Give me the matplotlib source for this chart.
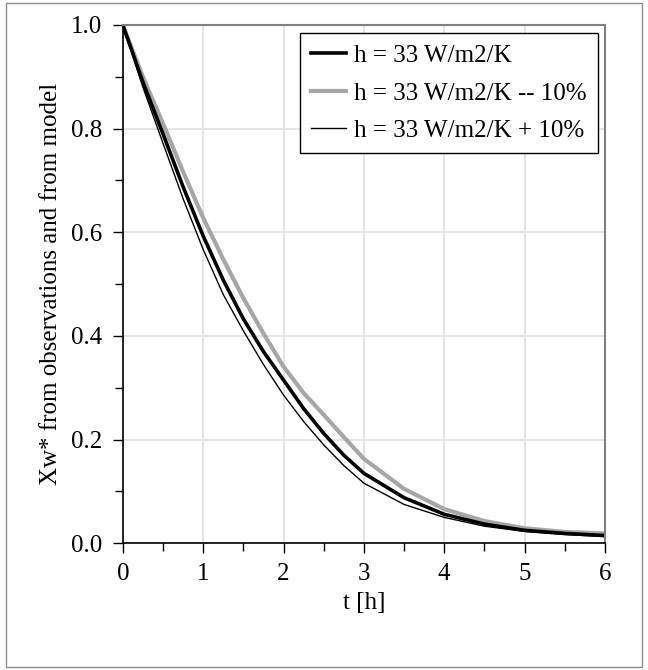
import matplotlib
matplotlib.use("Agg")
import matplotlib.pyplot as plt
from matplotlib.patches import Rectangle
from matplotlib.ticker import MultipleLocator, FormatStrFormatter

plt.rcParams['font.family'] = ['Liberation Serif', 'DejaVu Serif']

# time [h]
t = [0, 0.25, 0.5, 0.75, 1.0, 1.25, 1.5, 1.75, 2.0, 2.25, 2.5, 2.75,
     3.0, 3.5, 4.0, 4.5, 5.0, 5.5, 6.0]

# Xw* for h = 33 W/m2/K
x_base = [1.0, 0.89, 0.79, 0.688, 0.593, 0.508, 0.433, 0.37, 0.315, 0.26, 0.212, 0.17,
          0.135, 0.088, 0.056, 0.037, 0.025, 0.019, 0.015]
# h - 10%
x_minus = [1.0, 0.90, 0.81, 0.717, 0.628, 0.548, 0.473, 0.405, 0.341, 0.29, 0.248, 0.205,
           0.163, 0.105, 0.066, 0.043, 0.029, 0.022, 0.019]
# h + 10%
x_plus = [1.0, 0.88, 0.772, 0.665, 0.567, 0.48, 0.41, 0.345, 0.286, 0.235, 0.19, 0.15,
          0.116, 0.075, 0.050, 0.033, 0.023, 0.017, 0.013]

labels = ['h = 33 W/m2/K', 'h = 33 W/m2/K -- 10%', 'h = 33 W/m2/K + 10%']
fs = 18

fig = plt.figure(figsize=(6.48, 6.70), dpi=100)
fig.patches.append(Rectangle((0.009, 0.005), 0.982, 0.99, transform=fig.transFigure,
                             fill=False, edgecolor='#8c8c8c', linewidth=1.0))

ax = fig.add_axes([0.1895, 0.1891, 0.7441, 0.7736])

l_minus, = ax.plot(t, x_minus, color='#a6a6a6', linewidth=3.0, label=labels[1])
l_base, = ax.plot(t, x_base, color='black', linewidth=2.6, label=labels[0])
l_plus, = ax.plot(t, x_plus, color='black', linewidth=1.0, label=labels[2])

ax.set_xlim(0, 6)
ax.set_ylim(0, 1.0)
ax.xaxis.set_major_locator(MultipleLocator(1))
ax.xaxis.set_minor_locator(MultipleLocator(0.5))
ax.yaxis.set_major_locator(MultipleLocator(0.2))
ax.yaxis.set_minor_locator(MultipleLocator(0.1))
ax.yaxis.set_major_formatter(FormatStrFormatter('%.1f'))

ax.tick_params(which='both', direction='out', top=False, right=False,
               labelsize=fs, width=1.0, color='black')
ax.tick_params(axis='x', which='major', pad=7)
ax.tick_params(axis='y', which='major', pad=8)
ax.tick_params(which='major', length=7)
ax.tick_params(which='minor', length=6)

ax.grid(True, which='major', color='#e3e3e3', linewidth=1.3)
ax.set_axisbelow(True)

for side in ['left', 'bottom']:
    ax.spines[side].set_color('black')
    ax.spines[side].set_linewidth(1.2)
for side in ['top', 'right']:
    ax.spines[side].set_color('#808080')
    ax.spines[side].set_linewidth(1.5)

ax.set_xlabel('t [h]', fontsize=fs, labelpad=5)
ax.set_ylabel('Xw* from observations and from model', fontsize=fs, labelpad=6)

leg = ax.legend(handles=[l_base, l_minus, l_plus], loc='upper right',
                bbox_to_anchor=(0.985, 0.984), borderaxespad=0, fontsize=fs,
                handlelength=1.4, handletextpad=0.3, labelspacing=0.6,
                fancybox=False, framealpha=1, edgecolor='black',
                borderpad=0.45)
leg.get_frame().set_linewidth(1.0)

fig.savefig('out.png', dpi=100)
